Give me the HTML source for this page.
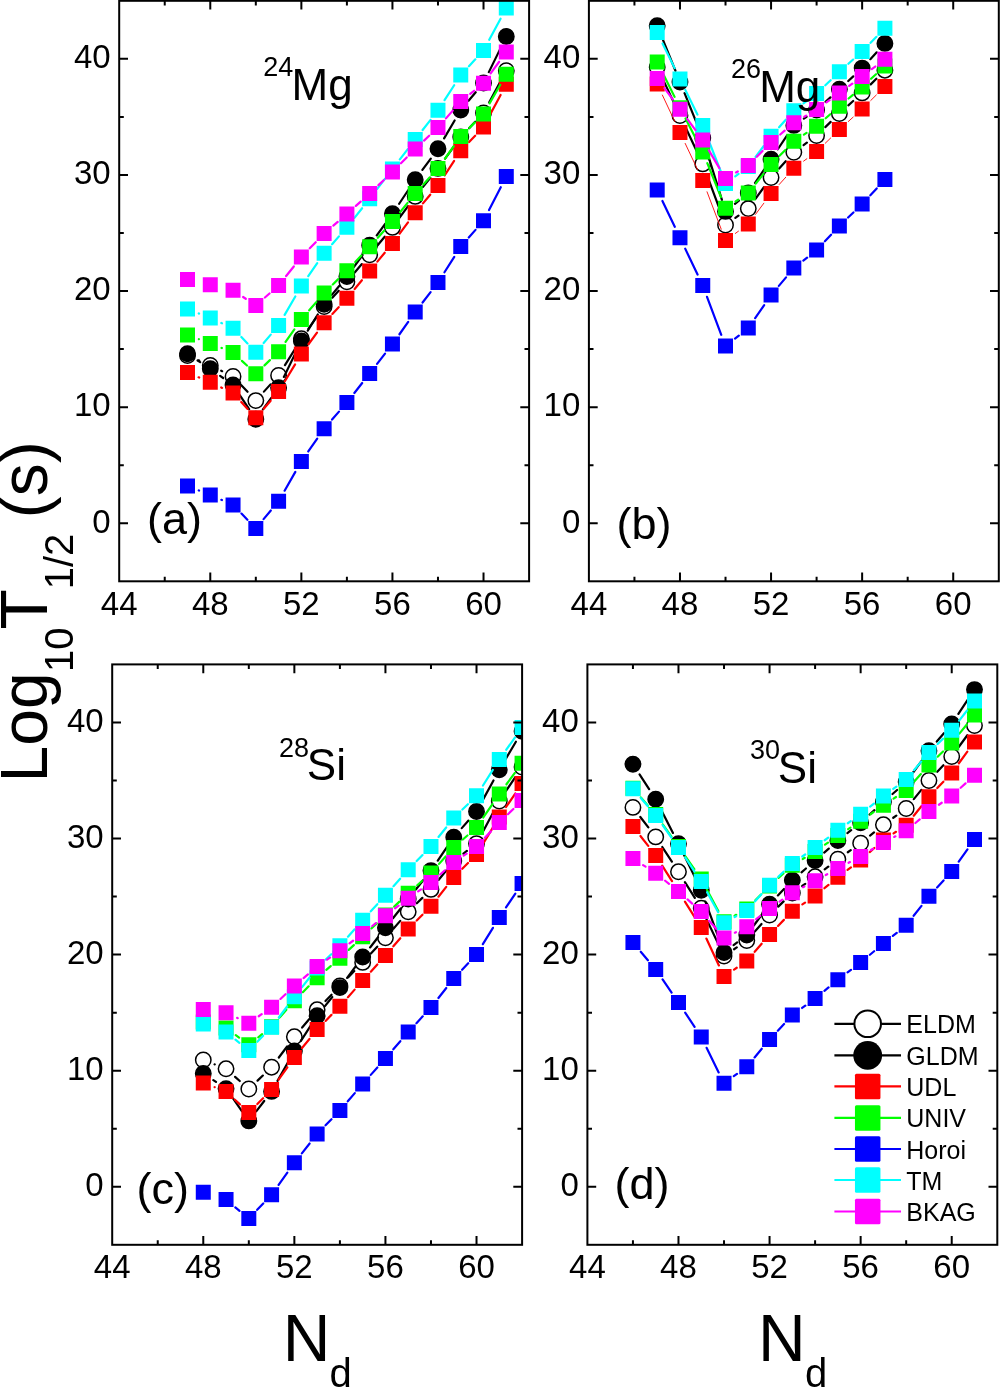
<!DOCTYPE html>
<html><head><meta charset="utf-8"><title>Log10 T1/2 vs Nd</title>
<style>html,body{margin:0;padding:0;background:#fff;width:1000px;height:1387px;overflow:hidden}svg{display:block;will-change:transform}</style>
</head><body>
<svg width="1000" height="1387" viewBox="0 0 1000 1387" font-family='"Liberation Sans", sans-serif'>
<rect width="1000" height="1387" fill="#fff"/>
<clipPath id="clipa"><rect x="119.2" y="0.8" width="409.9" height="580.5"/></clipPath>
<g clip-path="url(#clipa)">
<path d="M198.61 360.32L199.18 360.58M221.18 370.66L222.15 371.14M241.34 385.21L247.53 391.79M263.93 391.62L270.48 384.38M284.98 365.13L294.97 349.07M308.35 328.92L317.14 316.48M332.31 297.69L338.72 290.71M354.7 272.55L361.87 264.05M377.4 245.49L384.71 236.71M399.6 217.65L408.05 206.15M422.84 187.01L430.35 177.79M445.08 158.6L453.65 146.8M469.08 128.22L475.19 121.78M489.26 102.35L500.55 81.35" stroke="#000" stroke-width="2.2" fill="none" stroke-linecap="round"/>
<circle cx="187.51" cy="355.5" r="7.7" fill="#fff" stroke="#000" stroke-width="1.5"/>
<circle cx="210.28" cy="365.4" r="7.7" fill="#fff" stroke="#000" stroke-width="1.5"/>
<circle cx="233.05" cy="376.4" r="7.7" fill="#fff" stroke="#000" stroke-width="1.5"/>
<circle cx="255.82" cy="400.6" r="7.7" fill="#fff" stroke="#000" stroke-width="1.5"/>
<circle cx="278.59" cy="375.4" r="7.7" fill="#fff" stroke="#000" stroke-width="1.5"/>
<circle cx="301.36" cy="338.8" r="7.7" fill="#fff" stroke="#000" stroke-width="1.5"/>
<circle cx="324.13" cy="306.6" r="7.7" fill="#fff" stroke="#000" stroke-width="1.5"/>
<circle cx="346.9" cy="281.8" r="7.7" fill="#fff" stroke="#000" stroke-width="1.5"/>
<circle cx="369.67" cy="254.8" r="7.7" fill="#fff" stroke="#000" stroke-width="1.5"/>
<circle cx="392.44" cy="227.4" r="7.7" fill="#fff" stroke="#000" stroke-width="1.5"/>
<circle cx="415.21" cy="196.4" r="7.7" fill="#fff" stroke="#000" stroke-width="1.5"/>
<circle cx="437.98" cy="168.4" r="7.7" fill="#fff" stroke="#000" stroke-width="1.5"/>
<circle cx="460.75" cy="137" r="7.7" fill="#fff" stroke="#000" stroke-width="1.5"/>
<circle cx="483.52" cy="113" r="7.7" fill="#fff" stroke="#000" stroke-width="1.5"/>
<circle cx="506.29" cy="70.7" r="7.7" fill="#fff" stroke="#000" stroke-width="1.5"/>
<path d="M197.61 360.46L200.18 362.14M220.14 375.81L223.19 377.99M239.76 395.07L249.11 409.13M262.92 409.4L271.49 397.6M283.88 376.92L296.07 351.88M307.73 330.71L317.76 314.49M331.83 294.87L339.2 285.93M354 266.8L362.57 255M376.77 235.4L385.34 223.6M399.16 203.74L408.49 189.76M422.39 169.96L430.8 158.54M444.1 138.36L454.63 120.44M468.55 100.75L475.72 92.25M488.84 72.13L500.97 47.37" stroke="#000" stroke-width="2.2" fill="none" stroke-linecap="round"/>
<circle cx="187.51" cy="353.8" r="7.7" fill="#000" stroke="#000" stroke-width="1.5"/>
<circle cx="210.28" cy="368.8" r="7.7" fill="#000" stroke="#000" stroke-width="1.5"/>
<circle cx="233.05" cy="385" r="7.7" fill="#000" stroke="#000" stroke-width="1.5"/>
<circle cx="255.82" cy="419.2" r="7.7" fill="#000" stroke="#000" stroke-width="1.5"/>
<circle cx="278.59" cy="387.8" r="7.7" fill="#000" stroke="#000" stroke-width="1.5"/>
<circle cx="301.36" cy="341" r="7.7" fill="#000" stroke="#000" stroke-width="1.5"/>
<circle cx="324.13" cy="304.2" r="7.7" fill="#000" stroke="#000" stroke-width="1.5"/>
<circle cx="346.9" cy="276.6" r="7.7" fill="#000" stroke="#000" stroke-width="1.5"/>
<circle cx="369.67" cy="245.2" r="7.7" fill="#000" stroke="#000" stroke-width="1.5"/>
<circle cx="392.44" cy="213.8" r="7.7" fill="#000" stroke="#000" stroke-width="1.5"/>
<circle cx="415.21" cy="179.7" r="7.7" fill="#000" stroke="#000" stroke-width="1.5"/>
<circle cx="437.98" cy="148.8" r="7.7" fill="#000" stroke="#000" stroke-width="1.5"/>
<circle cx="460.75" cy="110" r="7.7" fill="#000" stroke="#000" stroke-width="1.5"/>
<circle cx="483.52" cy="83" r="7.7" fill="#000" stroke="#000" stroke-width="1.5"/>
<circle cx="506.29" cy="36.5" r="7.7" fill="#000" stroke="#000" stroke-width="1.5"/>
<path d="M198.62 377.28L199.17 377.52M221.21 387.49L222.12 387.91M241.25 402L247.62 408.9M263.76 408.67L270.65 400.73M284.86 381.25L295.09 364.35M308.49 344.23L317 332.57M332.37 313.94L338.66 307.16M354.65 289.01L361.92 280.29M377.37 261.67L384.74 252.73M399.65 233.68L408 222.42M422.96 203.41L430.23 194.69M444.63 175.29L454.1 160.91M469.11 142.06L475.16 135.74M489.21 116.32L500.6 94.98" stroke="#ff0000" stroke-width="2.2" fill="none" stroke-linecap="round"/>
<path d="M180.01 365h15.0v15.0h-15.0zM202.78 374.8h15.0v15.0h-15.0zM225.55 385.6h15.0v15.0h-15.0zM248.32 410.3h15.0v15.0h-15.0zM271.09 384.1h15.0v15.0h-15.0zM293.86 346.5h15.0v15.0h-15.0zM316.63 315.3h15.0v15.0h-15.0zM339.4 290.8h15.0v15.0h-15.0zM362.17 263.5h15.0v15.0h-15.0zM384.94 235.9h15.0v15.0h-15.0zM407.71 205.2h15.0v15.0h-15.0zM430.48 177.9h15.0v15.0h-15.0zM453.25 143.3h15.0v15.0h-15.0zM476.02 119.5h15.0v15.0h-15.0zM498.79 76.8h15.0v15.0h-15.0z" fill="#ff0000"/>
<path d="M198.85 339.13L198.94 339.17M221.5 347.93L221.83 348.07M241.91 360.85L246.96 365.55M264.5 365.37L269.91 360.13M285.58 341.82L294.37 329.38M309.23 310.31L316.26 302.09M332.79 284.45L338.24 279.15M355.23 261.92L361.34 255.48M377.8 237.74L384.31 230.56M400.06 212.2L407.59 202.9M423.34 184.54L429.85 177.36M445 158.54L453.73 146.26M469.36 127.9L474.91 122.4M489.55 103.41L500.26 84.79" stroke="#00ff00" stroke-width="2.2" fill="none" stroke-linecap="round"/>
<path d="M180.01 327.4h15.0v15.0h-15.0zM202.78 335.9h15.0v15.0h-15.0zM225.55 345.1h15.0v15.0h-15.0zM248.32 366.3h15.0v15.0h-15.0zM271.09 344.2h15.0v15.0h-15.0zM293.86 312h15.0v15.0h-15.0zM316.63 285.4h15.0v15.0h-15.0zM339.4 263.2h15.0v15.0h-15.0zM362.17 239.2h15.0v15.0h-15.0zM384.94 214.1h15.0v15.0h-15.0zM407.71 186h15.0v15.0h-15.0zM430.48 160.9h15.0v15.0h-15.0zM453.25 128.9h15.0v15.0h-15.0zM476.02 106.4h15.0v15.0h-15.0zM498.79 66.8h15.0v15.0h-15.0z" fill="#00ff00"/>
<path d="M198.76 490.45L199.03 490.55M221.38 499.82L221.95 500.08M241.47 513.59L247.4 519.71M263.59 519.12L270.82 510.48M284.6 490.7L295.35 471.9M308.27 451.47L317.22 438.63M332.07 419.57L338.96 411.63M354.37 392.98L362.2 383.02M377.08 363.93L385.03 353.67M399.46 334.24L408.19 321.96M422.59 302.51L430.6 292.09M444.46 272.28L454.27 256.82M468.76 237.53L475.51 229.87M489.04 210.03L500.77 187.17" stroke="#0000ff" stroke-width="2.2" fill="none" stroke-linecap="round"/>
<path d="M180.01 478.5h15.0v15.0h-15.0zM202.78 487.5h15.0v15.0h-15.0zM225.55 497.4h15.0v15.0h-15.0zM248.32 520.9h15.0v15.0h-15.0zM271.09 493.7h15.0v15.0h-15.0zM293.86 453.9h15.0v15.0h-15.0zM316.63 421.2h15.0v15.0h-15.0zM339.4 395h15.0v15.0h-15.0zM362.17 366h15.0v15.0h-15.0zM384.94 336.6h15.0v15.0h-15.0zM407.71 304.6h15.0v15.0h-15.0zM430.48 275h15.0v15.0h-15.0zM453.25 239.1h15.0v15.0h-15.0zM476.02 213.3h15.0v15.0h-15.0zM498.79 168.9h15.0v15.0h-15.0z" fill="#0000ff"/>
<path d="M198.75 313.49L199.04 313.61M221.34 323.01L221.99 323.29M241.38 336.98L247.49 343.42M263.65 342.98L270.76 334.62M284.64 314.92L295.31 296.48M308.27 276.07L317.22 263.23M332.1 244.2L338.93 236.4M354.45 217.85L362.12 208.25M377.02 189.19L385.09 178.61M399.85 159.43L407.8 149.17M422.63 130.05L430.56 119.85M444.55 100.14L454.18 85.26M468.95 66.2L475.32 59.3M489.24 39.74L500.57 18.66" stroke="#00ffff" stroke-width="2.2" fill="none" stroke-linecap="round"/>
<path d="M180.01 301.5h15.0v15.0h-15.0zM202.78 310.6h15.0v15.0h-15.0zM225.55 320.7h15.0v15.0h-15.0zM248.32 344.7h15.0v15.0h-15.0zM271.09 317.9h15.0v15.0h-15.0zM293.86 278.5h15.0v15.0h-15.0zM316.63 245.8h15.0v15.0h-15.0zM339.4 219.8h15.0v15.0h-15.0zM362.17 191.3h15.0v15.0h-15.0zM384.94 161.5h15.0v15.0h-15.0zM407.71 132.1h15.0v15.0h-15.0zM430.48 102.8h15.0v15.0h-15.0zM453.25 67.6h15.0v15.0h-15.0zM476.02 42.9h15.0v15.0h-15.0zM498.79 0.5h15.0v15.0h-15.0z" fill="#00ffff"/>
<path d="M243.11 297.02L245.76 298.78M264.91 297.51L269.5 293.49M286.14 276.05L293.81 266.45M309.78 248.31L315.71 242.19M333.32 225.63L337.71 221.87M355.89 205.9L360.68 201.6M378.45 185.17L383.66 180.23M400.95 163.3L406.7 157.5M424.03 140.61L429.16 135.79M445.95 118.4L452.78 110.6M470.18 93.92L474.09 90.78M490.65 73.43L499.16 61.77" stroke="#ff00ff" stroke-width="2.2" fill="none" stroke-linecap="round"/>
<path d="M180.01 271.9h15.0v15.0h-15.0zM202.78 277.2h15.0v15.0h-15.0zM225.55 282.8h15.0v15.0h-15.0zM248.32 298h15.0v15.0h-15.0zM271.09 278h15.0v15.0h-15.0zM293.86 249.5h15.0v15.0h-15.0zM316.63 226h15.0v15.0h-15.0zM339.4 206.5h15.0v15.0h-15.0zM362.17 186h15.0v15.0h-15.0zM384.94 164.4h15.0v15.0h-15.0zM407.71 141.4h15.0v15.0h-15.0zM430.48 120h15.0v15.0h-15.0zM453.25 94h15.0v15.0h-15.0zM476.02 75.7h15.0v15.0h-15.0zM498.79 44.5h15.0v15.0h-15.0z" fill="#ff00ff"/>
</g>
<path d="M164.74 581.3v-4.6M164.74 0.8v4.6M210.28 581.3v-8.8M210.28 0.8v8.8M255.82 581.3v-4.6M255.82 0.8v4.6M301.36 581.3v-8.8M301.36 0.8v8.8M346.9 581.3v-4.6M346.9 0.8v4.6M392.44 581.3v-8.8M392.44 0.8v8.8M437.98 581.3v-4.6M437.98 0.8v4.6M483.52 581.3v-8.8M483.52 0.8v8.8M119.2 523.25h8.8M529.1 523.25h-8.8M119.2 465.2h4.6M529.1 465.2h-4.6M119.2 407.15h8.8M529.1 407.15h-8.8M119.2 349.1h4.6M529.1 349.1h-4.6M119.2 291.05h8.8M529.1 291.05h-8.8M119.2 233h4.6M529.1 233h-4.6M119.2 174.95h8.8M529.1 174.95h-8.8M119.2 116.9h4.6M529.1 116.9h-4.6M119.2 58.85h8.8M529.1 58.85h-8.8" stroke="#000" stroke-width="2.0" fill="none"/>
<rect x="119.2" y="0.8" width="409.9" height="580.5" fill="none" stroke="#000" stroke-width="2.0"/>
<text x="110.6" y="532.55" text-anchor="end" font-size="33">0</text>
<text x="110.6" y="416.45" text-anchor="end" font-size="33">10</text>
<text x="110.6" y="300.35" text-anchor="end" font-size="33">20</text>
<text x="110.6" y="184.25" text-anchor="end" font-size="33">30</text>
<text x="110.6" y="68.15" text-anchor="end" font-size="33">40</text>
<text x="119.2" y="614.9" text-anchor="middle" font-size="33">44</text>
<text x="210.28" y="614.9" text-anchor="middle" font-size="33">48</text>
<text x="301.36" y="614.9" text-anchor="middle" font-size="33">52</text>
<text x="392.44" y="614.9" text-anchor="middle" font-size="33">56</text>
<text x="483.52" y="614.9" text-anchor="middle" font-size="33">60</text>
<clipPath id="clipb"><rect x="588.9" y="0.8" width="409.9" height="580.5"/></clipPath>
<g clip-path="url(#clipb)">
<path d="M662.36 78.15L674.83 104.65M685.14 126.54L697.59 152.96M706.98 175.24L721.29 213.66M735.34 217.93L738.47 215.67M755.44 198.84L763.91 187.26M779.17 168.52L785.72 161.28M803.57 145.12L806.86 142.68M825.3 127.09L830.67 121.91M848.34 105.38L853.17 101.02M870.71 84.36L876.34 78.74" stroke="#000" stroke-width="2.2" fill="none" stroke-linecap="round"/>
<circle cx="657.21" cy="67.2" r="7.7" fill="#fff" stroke="#000" stroke-width="1.5"/>
<circle cx="679.98" cy="115.6" r="7.7" fill="#fff" stroke="#000" stroke-width="1.5"/>
<circle cx="702.75" cy="163.9" r="7.7" fill="#fff" stroke="#000" stroke-width="1.5"/>
<circle cx="725.52" cy="225" r="7.7" fill="#fff" stroke="#000" stroke-width="1.5"/>
<circle cx="748.29" cy="208.6" r="7.7" fill="#fff" stroke="#000" stroke-width="1.5"/>
<circle cx="771.06" cy="177.5" r="7.7" fill="#fff" stroke="#000" stroke-width="1.5"/>
<circle cx="793.83" cy="152.3" r="7.7" fill="#fff" stroke="#000" stroke-width="1.5"/>
<circle cx="816.6" cy="135.5" r="7.7" fill="#fff" stroke="#000" stroke-width="1.5"/>
<circle cx="839.37" cy="113.5" r="7.7" fill="#fff" stroke="#000" stroke-width="1.5"/>
<circle cx="862.14" cy="92.9" r="7.7" fill="#fff" stroke="#000" stroke-width="1.5"/>
<circle cx="884.91" cy="70.2" r="7.7" fill="#fff" stroke="#000" stroke-width="1.5"/>
<path d="M661.75 36.92L675.44 70.78M684.54 93.21L698.19 126.79M706.34 149.56L721.93 199.84M734.93 203.79L738.88 200.61M755.06 182.97L764.29 169.33M777.81 149.26L787.08 135.44M803.85 118.62L806.58 116.78M825.53 101.84L830.44 97.36M848.25 80.98L853.26 76.32M870.34 59.2L876.71 52.3" stroke="#000" stroke-width="2.2" fill="none" stroke-linecap="round"/>
<circle cx="657.21" cy="25.7" r="7.7" fill="#000" stroke="#000" stroke-width="1.5"/>
<circle cx="679.98" cy="82" r="7.7" fill="#000" stroke="#000" stroke-width="1.5"/>
<circle cx="702.75" cy="138" r="7.7" fill="#000" stroke="#000" stroke-width="1.5"/>
<circle cx="725.52" cy="211.4" r="7.7" fill="#000" stroke="#000" stroke-width="1.5"/>
<circle cx="748.29" cy="193" r="7.7" fill="#000" stroke="#000" stroke-width="1.5"/>
<circle cx="771.06" cy="159.3" r="7.7" fill="#000" stroke="#000" stroke-width="1.5"/>
<circle cx="793.83" cy="125.4" r="7.7" fill="#000" stroke="#000" stroke-width="1.5"/>
<circle cx="816.6" cy="110" r="7.7" fill="#000" stroke="#000" stroke-width="1.5"/>
<circle cx="839.37" cy="89.2" r="7.7" fill="#000" stroke="#000" stroke-width="1.5"/>
<circle cx="862.14" cy="68.1" r="7.7" fill="#000" stroke="#000" stroke-width="1.5"/>
<circle cx="884.91" cy="43.4" r="7.7" fill="#000" stroke="#000" stroke-width="1.5"/>
<path d="M662.36 95.05L674.83 121.55M685.17 143.43L697.56 169.57M707.04 191.81L721.23 229.19M735.34 233.43L738.47 231.17M755.51 214.39L763.84 203.21M779.17 184.52L785.72 177.28M803.59 161.14L806.84 158.76M825.3 143.19L830.67 138.01M848.34 121.48L853.17 117.12M870.75 100.5L876.3 95" stroke="#ff0000" stroke-width="0.9" fill="none" stroke-linecap="round"/>
<path d="M649.71 76.6h15.0v15.0h-15.0zM672.48 125h15.0v15.0h-15.0zM695.25 173h15.0v15.0h-15.0zM718.02 233h15.0v15.0h-15.0zM740.79 216.6h15.0v15.0h-15.0zM763.56 186h15.0v15.0h-15.0zM786.33 160.8h15.0v15.0h-15.0zM809.1 144.1h15.0v15.0h-15.0zM831.87 122.1h15.0v15.0h-15.0zM854.64 101.5h15.0v15.0h-15.0zM877.41 79h15.0v15.0h-15.0z" fill="#ff0000"/>
<path d="M662.61 72.83L674.58 96.87M685.51 118.46L697.22 141.24M707.29 163.21L720.98 196.99M735.58 201.48L738.23 199.72M755.83 183.53L763.52 173.87M779.55 155.78L785.34 149.92M803.91 134.61L806.52 132.89M825.71 118.24L830.26 114.26M848.6 98.48L852.91 94.82M871.03 78.8L876.02 74.2" stroke="#00ff00" stroke-width="2.2" fill="none" stroke-linecap="round"/>
<path d="M649.71 54.5h15.0v15.0h-15.0zM672.48 100.2h15.0v15.0h-15.0zM695.25 144.5h15.0v15.0h-15.0zM718.02 200.7h15.0v15.0h-15.0zM740.79 185.5h15.0v15.0h-15.0zM763.56 156.9h15.0v15.0h-15.0zM786.33 133.8h15.0v15.0h-15.0zM809.1 118.7h15.0v15.0h-15.0zM831.87 98.8h15.0v15.0h-15.0zM854.64 79.5h15.0v15.0h-15.0zM877.41 58.5h15.0v15.0h-15.0z" fill="#00ff00"/>
<path d="M662.42 200.92L674.77 226.78M685.18 248.62L697.55 274.58M707.01 296.83L721.26 334.77M735.01 338.6L738.8 335.6M755.16 318.14L764.19 305.06M778.86 285.85L786.03 277.35M803.32 260.6L807.11 257.6M824.89 241.29L831.08 234.71M848.11 217.53L853.4 212.47M870.36 195.22L876.69 188.38" stroke="#0000ff" stroke-width="2.2" fill="none" stroke-linecap="round"/>
<path d="M649.71 182.5h15.0v15.0h-15.0zM672.48 230.2h15.0v15.0h-15.0zM695.25 278h15.0v15.0h-15.0zM718.02 338.6h15.0v15.0h-15.0zM740.79 320.6h15.0v15.0h-15.0zM763.56 287.6h15.0v15.0h-15.0zM786.33 260.6h15.0v15.0h-15.0zM809.1 242.6h15.0v15.0h-15.0zM831.87 218.4h15.0v15.0h-15.0zM854.64 196.6h15.0v15.0h-15.0zM877.41 172h15.0v15.0h-15.0z" fill="#0000ff"/>
<path d="M662.54 43.46L674.65 68.14M685.31 89.86L697.42 114.54M707.17 136.67L721.1 172.23M735.24 176.29L738.57 173.81M755.56 156.93L763.79 145.97M779.1 127.26L785.79 119.74M803.51 103.43L806.92 100.87M825.34 85.23L830.63 80.17M848.4 63.75L853.11 59.55M870.6 42.85L876.45 36.85" stroke="#00ffff" stroke-width="2.2" fill="none" stroke-linecap="round"/>
<path d="M649.71 25.1h15.0v15.0h-15.0zM672.48 71.5h15.0v15.0h-15.0zM695.25 117.9h15.0v15.0h-15.0zM718.02 176h15.0v15.0h-15.0zM740.79 159.1h15.0v15.0h-15.0zM763.56 128.8h15.0v15.0h-15.0zM786.33 103.2h15.0v15.0h-15.0zM809.1 86.1h15.0v15.0h-15.0zM831.87 64.3h15.0v15.0h-15.0zM854.64 44h15.0v15.0h-15.0zM877.41 20.7h15.0v15.0h-15.0z" fill="#00ffff"/>
<path d="M664.4 88.13L672.79 99.47M687.19 118.92L695.54 130.18M708.9 150.32L719.37 168.08M736.01 172.47L737.8 171.43M756.8 156.8L762.55 151M780.23 134.51L784.66 130.69M804.28 116.7L806.15 115.6M826.4 102.4L829.57 100.1M849.17 85.9L852.34 83.6M871.77 69.18L875.28 66.52" stroke="#ff00ff" stroke-width="2.2" fill="none" stroke-linecap="round"/>
<path d="M649.71 70.9h15.0v15.0h-15.0zM672.48 101.7h15.0v15.0h-15.0zM695.25 132.4h15.0v15.0h-15.0zM718.02 171h15.0v15.0h-15.0zM740.79 157.9h15.0v15.0h-15.0zM763.56 134.9h15.0v15.0h-15.0zM786.33 115.3h15.0v15.0h-15.0zM809.1 102h15.0v15.0h-15.0zM831.87 85.5h15.0v15.0h-15.0zM854.64 69h15.0v15.0h-15.0zM877.41 51.7h15.0v15.0h-15.0z" fill="#ff00ff"/>
</g>
<path d="M634.44 581.3v-4.6M634.44 0.8v4.6M679.98 581.3v-8.8M679.98 0.8v8.8M725.52 581.3v-4.6M725.52 0.8v4.6M771.06 581.3v-8.8M771.06 0.8v8.8M816.6 581.3v-4.6M816.6 0.8v4.6M862.14 581.3v-8.8M862.14 0.8v8.8M907.68 581.3v-4.6M907.68 0.8v4.6M953.22 581.3v-8.8M953.22 0.8v8.8M588.9 523.25h8.8M998.8 523.25h-8.8M588.9 465.2h4.6M998.8 465.2h-4.6M588.9 407.15h8.8M998.8 407.15h-8.8M588.9 349.1h4.6M998.8 349.1h-4.6M588.9 291.05h8.8M998.8 291.05h-8.8M588.9 233h4.6M998.8 233h-4.6M588.9 174.95h8.8M998.8 174.95h-8.8M588.9 116.9h4.6M998.8 116.9h-4.6M588.9 58.85h8.8M998.8 58.85h-8.8" stroke="#000" stroke-width="2.0" fill="none"/>
<rect x="588.9" y="0.8" width="409.9" height="580.5" fill="none" stroke="#000" stroke-width="2.0"/>
<text x="580.3" y="532.55" text-anchor="end" font-size="33">0</text>
<text x="580.3" y="416.45" text-anchor="end" font-size="33">10</text>
<text x="580.3" y="300.35" text-anchor="end" font-size="33">20</text>
<text x="580.3" y="184.25" text-anchor="end" font-size="33">30</text>
<text x="580.3" y="68.15" text-anchor="end" font-size="33">40</text>
<text x="588.9" y="614.9" text-anchor="middle" font-size="33">44</text>
<text x="679.98" y="614.9" text-anchor="middle" font-size="33">48</text>
<text x="771.06" y="614.9" text-anchor="middle" font-size="33">52</text>
<text x="862.14" y="614.9" text-anchor="middle" font-size="33">56</text>
<text x="953.22" y="614.9" text-anchor="middle" font-size="33">60</text>
<clipPath id="clipc"><rect x="112.2" y="664.4" width="409.9" height="580.4"/></clipPath>
<g clip-path="url(#clipc)">
<path d="M214.57 1064.36L214.76 1064.44M235.1 1076.83L239.77 1080.97M257.56 1080.63L262.85 1075.57M278.84 1057.52L287.11 1046.48M302.16 1027.55L309.33 1019.05M325.49 1001.06L331.54 994.74M348.3 977.29L354.27 971.11M370.89 953.52L377.22 946.68M393.41 928.7L400.24 920.9M416.84 903.31L422.35 897.89M438.55 879.96L446.18 870.44M463.36 853.65L466.91 850.95M482.22 832.93L493.59 811.67M506.02 790.95L515.33 777.05" stroke="#000" stroke-width="2.2" fill="none" stroke-linecap="round"/>
<circle cx="203.28" cy="1060" r="7.7" fill="#fff" stroke="#000" stroke-width="1.5"/>
<circle cx="226.05" cy="1068.8" r="7.7" fill="#fff" stroke="#000" stroke-width="1.5"/>
<circle cx="248.82" cy="1089" r="7.7" fill="#fff" stroke="#000" stroke-width="1.5"/>
<circle cx="271.59" cy="1067.2" r="7.7" fill="#fff" stroke="#000" stroke-width="1.5"/>
<circle cx="294.36" cy="1036.8" r="7.7" fill="#fff" stroke="#000" stroke-width="1.5"/>
<circle cx="317.13" cy="1009.8" r="7.7" fill="#fff" stroke="#000" stroke-width="1.5"/>
<circle cx="339.9" cy="986" r="7.7" fill="#fff" stroke="#000" stroke-width="1.5"/>
<circle cx="362.67" cy="962.4" r="7.7" fill="#fff" stroke="#000" stroke-width="1.5"/>
<circle cx="385.44" cy="937.8" r="7.7" fill="#fff" stroke="#000" stroke-width="1.5"/>
<circle cx="408.21" cy="911.8" r="7.7" fill="#fff" stroke="#000" stroke-width="1.5"/>
<circle cx="430.98" cy="889.4" r="7.7" fill="#fff" stroke="#000" stroke-width="1.5"/>
<circle cx="453.75" cy="861" r="7.7" fill="#fff" stroke="#000" stroke-width="1.5"/>
<circle cx="476.52" cy="843.6" r="7.7" fill="#fff" stroke="#000" stroke-width="1.5"/>
<circle cx="499.29" cy="801" r="7.7" fill="#fff" stroke="#000" stroke-width="1.5"/>
<circle cx="522.06" cy="767" r="7.7" fill="#fff" stroke="#000" stroke-width="1.5"/>
<path d="M213.34 1080.12L215.99 1081.88M233.02 1098.49L241.85 1111.01M256.21 1111.32L264.2 1100.98M277.53 1080.86L288.42 1061.54M300.93 1040.84L310.56 1025.96M324.73 1006.39L332.3 997.01M347.12 977.89L355.45 966.71M370.09 947.45L378.02 937.25M392.96 918.22L400.69 908.48M415.78 889.56L423.41 880.04M437.8 860.6L446.93 847.2M461.77 828.14L468.5 820.56M482.32 800.88L493.49 780.42M505.45 759.39L515.9 741.71" stroke="#000" stroke-width="2.2" fill="none" stroke-linecap="round"/>
<circle cx="203.28" cy="1073.4" r="7.7" fill="#000" stroke="#000" stroke-width="1.5"/>
<circle cx="226.05" cy="1088.6" r="7.7" fill="#000" stroke="#000" stroke-width="1.5"/>
<circle cx="248.82" cy="1120.9" r="7.7" fill="#000" stroke="#000" stroke-width="1.5"/>
<circle cx="271.59" cy="1091.4" r="7.7" fill="#000" stroke="#000" stroke-width="1.5"/>
<circle cx="294.36" cy="1051" r="7.7" fill="#000" stroke="#000" stroke-width="1.5"/>
<circle cx="317.13" cy="1015.8" r="7.7" fill="#000" stroke="#000" stroke-width="1.5"/>
<circle cx="339.9" cy="987.6" r="7.7" fill="#000" stroke="#000" stroke-width="1.5"/>
<circle cx="362.67" cy="957" r="7.7" fill="#000" stroke="#000" stroke-width="1.5"/>
<circle cx="385.44" cy="927.7" r="7.7" fill="#000" stroke="#000" stroke-width="1.5"/>
<circle cx="408.21" cy="899" r="7.7" fill="#000" stroke="#000" stroke-width="1.5"/>
<circle cx="430.98" cy="870.6" r="7.7" fill="#000" stroke="#000" stroke-width="1.5"/>
<circle cx="453.75" cy="837.2" r="7.7" fill="#000" stroke="#000" stroke-width="1.5"/>
<circle cx="476.52" cy="811.5" r="7.7" fill="#000" stroke="#000" stroke-width="1.5"/>
<circle cx="499.29" cy="769.8" r="7.7" fill="#000" stroke="#000" stroke-width="1.5"/>
<circle cx="522.06" cy="731.3" r="7.7" fill="#000" stroke="#000" stroke-width="1.5"/>
<path d="M214.6 1087.18L214.73 1087.22M234.93 1099.72L239.94 1104.38M257.33 1104L263.08 1098.2M278.58 1079.72L287.37 1067.28M302.03 1048.04L309.46 1038.96M325.57 1020.93L331.46 1014.87M347.94 997.16L354.63 989.64M370.8 971.64L377.31 964.46M393.34 946.34L400.31 938.26M416.74 920.52L422.45 914.78M438.48 896.71L446.25 886.89M462.26 868.8L468.01 863M482.81 844.06L493 827.34M506.09 806.99L515.26 793.51" stroke="#ff0000" stroke-width="2.2" fill="none" stroke-linecap="round"/>
<path d="M195.78 1075.4h15.0v15.0h-15.0zM218.55 1084h15.0v15.0h-15.0zM241.32 1105.1h15.0v15.0h-15.0zM264.09 1082.1h15.0v15.0h-15.0zM286.86 1049.9h15.0v15.0h-15.0zM309.63 1022.1h15.0v15.0h-15.0zM332.4 998.7h15.0v15.0h-15.0zM355.17 973.1h15.0v15.0h-15.0zM377.94 948h15.0v15.0h-15.0zM400.71 921.6h15.0v15.0h-15.0zM423.48 898.7h15.0v15.0h-15.0zM446.25 869.9h15.0v15.0h-15.0zM469.02 846.9h15.0v15.0h-15.0zM491.79 809.5h15.0v15.0h-15.0zM514.56 776h15.0v15.0h-15.0z" fill="#ff0000"/>
<path d="M235.79 1035.18L239.08 1037.62M258.29 1037.27L262.12 1034.23M279.58 1017.61L286.37 1009.89M302.85 992.18L308.64 986.32M326.32 969.83L330.71 966.07M348.72 949.91L353.85 945.09M371.41 928.43L376.7 923.37M394.2 906.65L399.45 901.65M417.22 885.23L421.97 880.97M439.06 863.89L445.67 856.51M462.84 839.51L467.43 835.49M483.32 817.49L492.49 804.01M506.48 784.27L514.87 772.93" stroke="#00ff00" stroke-width="2.2" fill="none" stroke-linecap="round"/>
<path d="M195.78 1014.5h15.0v15.0h-15.0zM218.55 1020.5h15.0v15.0h-15.0zM241.32 1037.3h15.0v15.0h-15.0zM264.09 1019.2h15.0v15.0h-15.0zM286.86 993.3h15.0v15.0h-15.0zM309.63 970.2h15.0v15.0h-15.0zM332.4 950.7h15.0v15.0h-15.0zM355.17 929.3h15.0v15.0h-15.0zM377.94 907.5h15.0v15.0h-15.0zM400.71 885.8h15.0v15.0h-15.0zM423.48 865.4h15.0v15.0h-15.0zM446.25 840h15.0v15.0h-15.0zM469.02 820h15.0v15.0h-15.0zM491.79 786.5h15.0v15.0h-15.0zM514.56 755.7h15.0v15.0h-15.0z" fill="#00ff00"/>
<path d="M235.34 1207.35L239.53 1210.85M257.18 1209.86L263.23 1203.54M278.61 1184.94L287.34 1172.66M301.86 1153.31L309.63 1143.49M325.55 1125.31L331.48 1119.19M347.77 1101.31L354.8 1093.09M370.75 1074.89L377.36 1067.51M393.33 1049.32L400.32 1041.18M416.45 1023.14L422.74 1016.36M438.45 997.98L446.28 988.02M462.08 969.72L468.19 963.28M482.86 944.2L492.95 927.8M506.02 907.45L515.33 893.55" stroke="#0000ff" stroke-width="2.2" fill="none" stroke-linecap="round"/>
<path d="M195.78 1184.7h15.0v15.0h-15.0zM218.55 1192.1h15.0v15.0h-15.0zM241.32 1211.1h15.0v15.0h-15.0zM264.09 1187.3h15.0v15.0h-15.0zM286.86 1155.3h15.0v15.0h-15.0zM309.63 1126.5h15.0v15.0h-15.0zM332.4 1103h15.0v15.0h-15.0zM355.17 1076.4h15.0v15.0h-15.0zM377.94 1051h15.0v15.0h-15.0zM400.71 1024.5h15.0v15.0h-15.0zM423.48 1000h15.0v15.0h-15.0zM446.25 971h15.0v15.0h-15.0zM469.02 947h15.0v15.0h-15.0zM491.79 910h15.0v15.0h-15.0zM514.56 876h15.0v15.0h-15.0z" fill="#0000ff"/>
<path d="M235.46 1039.61L239.41 1042.79M257.3 1041.76L263.11 1035.84M278.84 1017.52L287.11 1006.48M301.86 987.31L309.63 977.49M325.77 959.53L331.26 954.17M347.98 936.69L354.59 929.31M370.8 911.34L377.31 904.16M393.5 886.17L400.15 878.73M416.67 861.05L422.52 855.05M438.55 836.96L446.18 827.44M462.39 809.53L467.88 804.17M482.98 785.47L492.83 769.83M506.29 749.73L515.06 737.37" stroke="#00ffff" stroke-width="2.2" fill="none" stroke-linecap="round"/>
<path d="M195.78 1016.5h15.0v15.0h-15.0zM218.55 1024.5h15.0v15.0h-15.0zM241.32 1042.9h15.0v15.0h-15.0zM264.09 1019.7h15.0v15.0h-15.0zM286.86 989.3h15.0v15.0h-15.0zM309.63 960.5h15.0v15.0h-15.0zM332.4 938.2h15.0v15.0h-15.0zM355.17 912.8h15.0v15.0h-15.0zM377.94 887.7h15.0v15.0h-15.0zM400.71 862.2h15.0v15.0h-15.0zM423.48 838.9h15.0v15.0h-15.0zM446.25 810.5h15.0v15.0h-15.0zM469.02 788.2h15.0v15.0h-15.0zM491.79 752.1h15.0v15.0h-15.0zM514.56 720h15.0v15.0h-15.0z" fill="#00ffff"/>
<path d="M237.06 1017.83L237.81 1018.17M258.72 1016.24L261.69 1014.16M280.45 998.95L285.5 994.25M303.57 978.15L307.92 974.45M327.07 959.7L329.96 957.7M349.51 943.45L353.06 940.75M372.24 926L375.87 923.2M395.03 908.43L398.62 905.67M418.13 891.37L421.06 889.33M440.11 874.46L444.62 870.54M463.65 855.64L466.62 853.56M484.85 837.82L490.96 831.38M507.97 814.17L513.38 808.93" stroke="#ff00ff" stroke-width="2.2" fill="none" stroke-linecap="round"/>
<path d="M195.78 1001.9h15.0v15.0h-15.0zM218.55 1005.3h15.0v15.0h-15.0zM241.32 1015.7h15.0v15.0h-15.0zM264.09 999.7h15.0v15.0h-15.0zM286.86 978.5h15.0v15.0h-15.0zM309.63 959.1h15.0v15.0h-15.0zM332.4 943.3h15.0v15.0h-15.0zM355.17 925.9h15.0v15.0h-15.0zM377.94 908.3h15.0v15.0h-15.0zM400.71 890.8h15.0v15.0h-15.0zM423.48 874.9h15.0v15.0h-15.0zM446.25 855.1h15.0v15.0h-15.0zM469.02 839.1h15.0v15.0h-15.0zM491.79 815.1h15.0v15.0h-15.0zM514.56 793h15.0v15.0h-15.0z" fill="#ff00ff"/>
</g>
<path d="M157.74 1244.8v-4.6M157.74 664.4v4.6M203.28 1244.8v-8.8M203.28 664.4v8.8M248.82 1244.8v-4.6M248.82 664.4v4.6M294.36 1244.8v-8.8M294.36 664.4v8.8M339.9 1244.8v-4.6M339.9 664.4v4.6M385.44 1244.8v-8.8M385.44 664.4v8.8M430.98 1244.8v-4.6M430.98 664.4v4.6M476.52 1244.8v-8.8M476.52 664.4v8.8M112.2 1186.75h8.8M522.1 1186.75h-8.8M112.2 1128.71h4.6M522.1 1128.71h-4.6M112.2 1070.67h8.8M522.1 1070.67h-8.8M112.2 1012.63h4.6M522.1 1012.63h-4.6M112.2 954.59h8.8M522.1 954.59h-8.8M112.2 896.55h4.6M522.1 896.55h-4.6M112.2 838.51h8.8M522.1 838.51h-8.8M112.2 780.47h4.6M522.1 780.47h-4.6M112.2 722.43h8.8M522.1 722.43h-8.8" stroke="#000" stroke-width="2.0" fill="none"/>
<rect x="112.2" y="664.4" width="409.9" height="580.4" fill="none" stroke="#000" stroke-width="2.0"/>
<text x="103.6" y="1196.05" text-anchor="end" font-size="33">0</text>
<text x="103.6" y="1079.97" text-anchor="end" font-size="33">10</text>
<text x="103.6" y="963.89" text-anchor="end" font-size="33">20</text>
<text x="103.6" y="847.81" text-anchor="end" font-size="33">30</text>
<text x="103.6" y="731.73" text-anchor="end" font-size="33">40</text>
<text x="112.2" y="1278.4" text-anchor="middle" font-size="33">44</text>
<text x="203.28" y="1278.4" text-anchor="middle" font-size="33">48</text>
<text x="294.36" y="1278.4" text-anchor="middle" font-size="33">52</text>
<text x="385.44" y="1278.4" text-anchor="middle" font-size="33">56</text>
<text x="476.52" y="1278.4" text-anchor="middle" font-size="33">60</text>
<clipPath id="clipd"><rect x="587.4" y="664.4" width="409.9" height="580.4"/></clipPath>
<g clip-path="url(#clipd)">
<path d="M640.33 816.98L648.32 827.32M662.32 847.03L671.87 861.67M684.9 882.06L694.83 897.94M706.45 919.12L718.82 945.08M734.04 949.22L736.77 947.38M754.83 931.56L761.52 924.04M778.26 906.59L783.63 901.41M802.19 885.99L805.24 883.81M824.67 869.4L828.3 866.6M847.77 852.24L850.74 850.16M870.05 835.59L874 832.41M893.25 817.76L896.34 815.54M913.81 799.11L921.32 789.89M937.28 771.72L943.39 765.28M958.88 746.75L967.33 735.25" stroke="#000" stroke-width="2.2" fill="none" stroke-linecap="round"/>
<circle cx="632.94" cy="807.4" r="7.7" fill="#fff" stroke="#000" stroke-width="1.5"/>
<circle cx="655.71" cy="836.9" r="7.7" fill="#fff" stroke="#000" stroke-width="1.5"/>
<circle cx="678.48" cy="871.8" r="7.7" fill="#fff" stroke="#000" stroke-width="1.5"/>
<circle cx="701.25" cy="908.2" r="7.7" fill="#fff" stroke="#000" stroke-width="1.5"/>
<circle cx="724.02" cy="956" r="7.7" fill="#fff" stroke="#000" stroke-width="1.5"/>
<circle cx="746.79" cy="940.6" r="7.7" fill="#fff" stroke="#000" stroke-width="1.5"/>
<circle cx="769.56" cy="915" r="7.7" fill="#fff" stroke="#000" stroke-width="1.5"/>
<circle cx="792.33" cy="893" r="7.7" fill="#fff" stroke="#000" stroke-width="1.5"/>
<circle cx="815.1" cy="876.8" r="7.7" fill="#fff" stroke="#000" stroke-width="1.5"/>
<circle cx="837.87" cy="859.2" r="7.7" fill="#fff" stroke="#000" stroke-width="1.5"/>
<circle cx="860.64" cy="843.2" r="7.7" fill="#fff" stroke="#000" stroke-width="1.5"/>
<circle cx="883.41" cy="824.8" r="7.7" fill="#fff" stroke="#000" stroke-width="1.5"/>
<circle cx="906.18" cy="808.5" r="7.7" fill="#fff" stroke="#000" stroke-width="1.5"/>
<circle cx="928.95" cy="780.5" r="7.7" fill="#fff" stroke="#000" stroke-width="1.5"/>
<circle cx="951.72" cy="756.5" r="7.7" fill="#fff" stroke="#000" stroke-width="1.5"/>
<circle cx="974.49" cy="725.5" r="7.7" fill="#fff" stroke="#000" stroke-width="1.5"/>
<path d="M639.54 774.34L649.11 789.06M661.22 809.97L672.97 832.93M683.8 854.57L695.93 879.33M705.4 901.57L719.87 941.23M733.59 945.2L737.22 942.4M753.98 925.27L762.37 913.93M777.89 895.42L784 888.98M801.5 872.31L805.93 868.49M824.19 852.61L828.78 848.59M847.38 833.12L851.13 830.18M869.59 814.56L874.46 810.14M892.5 794.01L897.09 789.99M913.31 772.23L921.82 760.57M936.78 741.58L943.89 733.22M958.4 713.91L967.81 699.69" stroke="#000" stroke-width="2.2" fill="none" stroke-linecap="round"/>
<circle cx="632.94" cy="764.2" r="7.7" fill="#000" stroke="#000" stroke-width="1.5"/>
<circle cx="655.71" cy="799.2" r="7.7" fill="#000" stroke="#000" stroke-width="1.5"/>
<circle cx="678.48" cy="843.7" r="7.7" fill="#000" stroke="#000" stroke-width="1.5"/>
<circle cx="701.25" cy="890.2" r="7.7" fill="#000" stroke="#000" stroke-width="1.5"/>
<circle cx="724.02" cy="952.6" r="7.7" fill="#000" stroke="#000" stroke-width="1.5"/>
<circle cx="746.79" cy="935" r="7.7" fill="#000" stroke="#000" stroke-width="1.5"/>
<circle cx="769.56" cy="904.2" r="7.7" fill="#000" stroke="#000" stroke-width="1.5"/>
<circle cx="792.33" cy="880.2" r="7.7" fill="#000" stroke="#000" stroke-width="1.5"/>
<circle cx="815.1" cy="860.6" r="7.7" fill="#000" stroke="#000" stroke-width="1.5"/>
<circle cx="837.87" cy="840.6" r="7.7" fill="#000" stroke="#000" stroke-width="1.5"/>
<circle cx="860.64" cy="822.7" r="7.7" fill="#000" stroke="#000" stroke-width="1.5"/>
<circle cx="883.41" cy="802" r="7.7" fill="#000" stroke="#000" stroke-width="1.5"/>
<circle cx="906.18" cy="782" r="7.7" fill="#000" stroke="#000" stroke-width="1.5"/>
<circle cx="928.95" cy="750.8" r="7.7" fill="#000" stroke="#000" stroke-width="1.5"/>
<circle cx="951.72" cy="724" r="7.7" fill="#000" stroke="#000" stroke-width="1.5"/>
<circle cx="974.49" cy="689.6" r="7.7" fill="#000" stroke="#000" stroke-width="1.5"/>
<path d="M640.43 836L648.22 845.9M662.18 865.63L672.01 881.17M684.92 901.64L694.81 917.36M706.37 938.57L718.9 965.43M734.04 969.62L736.77 967.78M754.69 951.84L761.66 943.76M778 925.93L783.89 919.87M802.37 904.45L805.06 902.65M824.45 888.22L828.52 884.88M847.55 869.93L850.96 867.37M869.71 852.09L874.34 848.01M893.56 833.41L896.03 831.79M913.75 815.76L921.38 806.24M937.31 788.06L943.36 781.74M958.87 763.24L967.34 751.66" stroke="#ff0000" stroke-width="2.2" fill="none" stroke-linecap="round"/>
<path d="M625.44 819h15.0v15.0h-15.0zM648.21 847.9h15.0v15.0h-15.0zM670.98 883.9h15.0v15.0h-15.0zM693.75 920.1h15.0v15.0h-15.0zM716.52 968.9h15.0v15.0h-15.0zM739.29 953.5h15.0v15.0h-15.0zM762.06 927.1h15.0v15.0h-15.0zM784.83 903.7h15.0v15.0h-15.0zM807.6 888.4h15.0v15.0h-15.0zM830.37 869.7h15.0v15.0h-15.0zM853.14 852.6h15.0v15.0h-15.0zM875.91 832.5h15.0v15.0h-15.0zM898.68 817.7h15.0v15.0h-15.0zM921.45 789.3h15.0v15.0h-15.0zM944.22 765.5h15.0v15.0h-15.0zM966.99 734.4h15.0v15.0h-15.0z" fill="#ff0000"/>
<path d="M640.88 797.43L647.77 805.37M662.73 824.36L671.46 836.64M685.41 856.42L694.32 869.18M706.95 889.77L718.32 911.03M734.57 915.77L736.24 914.83M755.32 900.32L761.03 894.58M778.49 877.84L783.4 873.36M802.72 859L804.71 857.8M825 844.64L827.97 842.56M848.1 829.13L850.41 827.67M870.54 814.24L873.51 812.16M893.56 798.61L896.03 796.99M914.27 781.41L920.86 774.09M937.63 756.67L943.04 751.43M959.37 733.63L966.84 724.47" stroke="#00ff00" stroke-width="2.2" fill="none" stroke-linecap="round"/>
<path d="M625.44 780.8h15.0v15.0h-15.0zM648.21 807h15.0v15.0h-15.0zM670.98 839h15.0v15.0h-15.0zM693.75 871.6h15.0v15.0h-15.0zM716.52 914.2h15.0v15.0h-15.0zM739.29 901.4h15.0v15.0h-15.0zM762.06 878.5h15.0v15.0h-15.0zM784.83 857.7h15.0v15.0h-15.0zM807.6 844.1h15.0v15.0h-15.0zM830.37 828.1h15.0v15.0h-15.0zM853.14 813.7h15.0v15.0h-15.0zM875.91 797.7h15.0v15.0h-15.0zM898.68 782.9h15.0v15.0h-15.0zM921.45 757.6h15.0v15.0h-15.0zM944.22 735.5h15.0v15.0h-15.0zM966.99 707.6h15.0v15.0h-15.0z" fill="#00ff00"/>
<path d="M640.74 951.75L647.91 960.25M662.58 979.46L671.61 992.54M685.15 1012.6L694.58 1026.9M706.59 1047.86L718.68 1072.44M733.8 1076.17L737.01 1073.83M754.56 1057.42L761.79 1048.78M777.82 1030.65L784.07 1023.95M802.11 1007.97L805.32 1005.63M824.43 990.8L828.54 987.4M847.53 972.41L850.98 969.79M869.93 954.75L874.12 951.25M892.86 935.95L896.73 932.85M913.65 915.78L921.48 905.82M937.13 887.39L943.54 880.41M958.74 861.64L967.47 849.36" stroke="#0000ff" stroke-width="2.2" fill="none" stroke-linecap="round"/>
<path d="M625.44 935h15.0v15.0h-15.0zM648.21 962h15.0v15.0h-15.0zM670.98 995h15.0v15.0h-15.0zM693.75 1029.5h15.0v15.0h-15.0zM716.52 1075.8h15.0v15.0h-15.0zM739.29 1059.2h15.0v15.0h-15.0zM762.06 1032h15.0v15.0h-15.0zM784.83 1007.6h15.0v15.0h-15.0zM807.6 991h15.0v15.0h-15.0zM830.37 972.2h15.0v15.0h-15.0zM853.14 955h15.0v15.0h-15.0zM875.91 936h15.0v15.0h-15.0zM898.68 917.8h15.0v15.0h-15.0zM921.45 888.8h15.0v15.0h-15.0zM944.22 864h15.0v15.0h-15.0zM966.99 832h15.0v15.0h-15.0z" fill="#0000ff"/>
<path d="M640.81 797.99L647.84 806.21M662.73 825.26L671.46 837.54M685.19 857.47L694.54 871.53M707.1 892.19L718.17 912.21M734.65 917.01L736.16 916.19M754.9 901.42L761.45 894.18M778.3 876.83L783.59 871.77M802.27 856.5L805.16 854.5M824.71 840.25L828.26 837.55M847.77 823.24L850.74 821.16M870.09 806.65L873.96 803.55M893.21 788.9L896.38 786.6M913.96 770.24L921.17 761.66M937.61 743.95L943.06 738.65M959.14 720.65L967.07 710.45" stroke="#00ffff" stroke-width="2.2" fill="none" stroke-linecap="round"/>
<path d="M625.44 781.3h15.0v15.0h-15.0zM648.21 807.9h15.0v15.0h-15.0zM670.98 839.9h15.0v15.0h-15.0zM693.75 874.1h15.0v15.0h-15.0zM716.52 915.3h15.0v15.0h-15.0zM739.29 902.9h15.0v15.0h-15.0zM762.06 877.7h15.0v15.0h-15.0zM784.83 855.9h15.0v15.0h-15.0zM807.6 840.1h15.0v15.0h-15.0zM830.37 822.7h15.0v15.0h-15.0zM853.14 806.7h15.0v15.0h-15.0zM875.91 788.5h15.0v15.0h-15.0zM898.68 772h15.0v15.0h-15.0zM921.45 744.9h15.0v15.0h-15.0zM944.22 722.7h15.0v15.0h-15.0zM966.99 693.4h15.0v15.0h-15.0z" fill="#00ffff"/>
<path d="M643.11 865.06L645.54 866.64M665.16 880.75L669.03 883.85M687.53 899.43L692.2 903.57M709.15 920.76L716.12 928.84M734.88 932.66L735.93 932.14M756.2 919.19L760.15 916.01M779.54 901.56L782.35 899.64M803.03 887.16L804.4 886.44M825.73 875.01L827.24 874.19M848.57 862.76L849.94 862.04M870.95 850.06L873.1 848.74M894.19 836.91L895.4 836.29M915.43 823L919.7 819.4M938.91 804.73L941.76 802.77M960.67 787.76L965.54 783.34" stroke="#ff00ff" stroke-width="2.2" fill="none" stroke-linecap="round"/>
<path d="M625.44 851h15.0v15.0h-15.0zM648.21 865.7h15.0v15.0h-15.0zM670.98 883.9h15.0v15.0h-15.0zM693.75 904.1h15.0v15.0h-15.0zM716.52 930.5h15.0v15.0h-15.0zM739.29 919.3h15.0v15.0h-15.0zM762.06 900.9h15.0v15.0h-15.0zM784.83 885.3h15.0v15.0h-15.0zM807.6 873.3h15.0v15.0h-15.0zM830.37 860.9h15.0v15.0h-15.0zM853.14 848.9h15.0v15.0h-15.0zM875.91 834.9h15.0v15.0h-15.0zM898.68 823.3h15.0v15.0h-15.0zM921.45 804.1h15.0v15.0h-15.0zM944.22 788.4h15.0v15.0h-15.0zM966.99 767.7h15.0v15.0h-15.0z" fill="#ff00ff"/>
</g>
<path d="M632.94 1244.8v-4.6M632.94 664.4v4.6M678.48 1244.8v-8.8M678.48 664.4v8.8M724.02 1244.8v-4.6M724.02 664.4v4.6M769.56 1244.8v-8.8M769.56 664.4v8.8M815.1 1244.8v-4.6M815.1 664.4v4.6M860.64 1244.8v-8.8M860.64 664.4v8.8M906.18 1244.8v-4.6M906.18 664.4v4.6M951.72 1244.8v-8.8M951.72 664.4v8.8M587.4 1186.75h8.8M997.3 1186.75h-8.8M587.4 1128.71h4.6M997.3 1128.71h-4.6M587.4 1070.67h8.8M997.3 1070.67h-8.8M587.4 1012.63h4.6M997.3 1012.63h-4.6M587.4 954.59h8.8M997.3 954.59h-8.8M587.4 896.55h4.6M997.3 896.55h-4.6M587.4 838.51h8.8M997.3 838.51h-8.8M587.4 780.47h4.6M997.3 780.47h-4.6M587.4 722.43h8.8M997.3 722.43h-8.8" stroke="#000" stroke-width="2.0" fill="none"/>
<rect x="587.4" y="664.4" width="409.9" height="580.4" fill="none" stroke="#000" stroke-width="2.0"/>
<text x="578.8" y="1196.05" text-anchor="end" font-size="33">0</text>
<text x="578.8" y="1079.97" text-anchor="end" font-size="33">10</text>
<text x="578.8" y="963.89" text-anchor="end" font-size="33">20</text>
<text x="578.8" y="847.81" text-anchor="end" font-size="33">30</text>
<text x="578.8" y="731.73" text-anchor="end" font-size="33">40</text>
<text x="587.4" y="1278.4" text-anchor="middle" font-size="33">44</text>
<text x="678.48" y="1278.4" text-anchor="middle" font-size="33">48</text>
<text x="769.56" y="1278.4" text-anchor="middle" font-size="33">52</text>
<text x="860.64" y="1278.4" text-anchor="middle" font-size="33">56</text>
<text x="951.72" y="1278.4" text-anchor="middle" font-size="33">60</text>
<text x="263.2" y="76.2" font-size="27">24</text>
<text x="291.6" y="99.8" font-size="44">Mg</text>
<text x="730.9" y="78.4" font-size="27">26</text>
<text x="759.2" y="101.5" font-size="44">Mg</text>
<text x="279.0" y="756.8" font-size="27">28</text>
<text x="306.8" y="780" font-size="44">Si</text>
<text x="750.0" y="759.2" font-size="27">30</text>
<text x="777.8" y="782.5" font-size="44">Si</text>
<text x="147.0" y="534" font-size="45">(a)</text>
<text x="616.5" y="538.5" font-size="45">(b)</text>
<text x="136.6" y="1203.5" font-size="45">(c)</text>
<text x="614.5" y="1198.5" font-size="45">(d)</text>
<path d="M834.4 1023.8H901" stroke="#000" stroke-width="2.2"/>
<circle cx="867.7" cy="1023.8" r="13.3" fill="#fff" stroke="#000" stroke-width="2"/>
<text x="906.3" y="1033.3" font-size="25">ELDM</text>
<path d="M834.4 1055.4H901" stroke="#000" stroke-width="2.2"/>
<circle cx="867.7" cy="1055.4" r="14.4" fill="#000"/>
<text x="906.3" y="1064.9" font-size="25">GLDM</text>
<path d="M834.4 1086.4H901" stroke="#ff0000" stroke-width="2.2"/>
<rect x="854.95" y="1073.65" width="25.5" height="25.5" rx="1.5" fill="#ff0000"/>
<text x="906.3" y="1095.9" font-size="25">UDL</text>
<path d="M834.4 1117.9H901" stroke="#00ff00" stroke-width="2.2"/>
<rect x="854.95" y="1105.15" width="25.5" height="25.5" rx="1.5" fill="#00ff00"/>
<text x="906.3" y="1127.4" font-size="25">UNIV</text>
<path d="M834.4 1149H901" stroke="#0000ff" stroke-width="2.2"/>
<rect x="854.95" y="1136.25" width="25.5" height="25.5" rx="1.5" fill="#0000ff"/>
<text x="906.3" y="1158.5" font-size="25">Horoi</text>
<path d="M834.4 1180H901" stroke="#00ffff" stroke-width="2.2"/>
<rect x="854.95" y="1167.25" width="25.5" height="25.5" rx="1.5" fill="#00ffff"/>
<text x="906.3" y="1189.5" font-size="25">TM</text>
<path d="M834.4 1211.5H901" stroke="#ff00ff" stroke-width="2.2"/>
<rect x="854.95" y="1198.75" width="25.5" height="25.5" rx="1.5" fill="#ff00ff"/>
<text x="906.3" y="1221" font-size="25">BKAG</text>
<text x="47.4" y="782.4" font-size="66" transform="rotate(-90 47.4 782.4)">Log</text>
<text x="72.7" y="672" font-size="40" transform="rotate(-90 72.7 672)">10</text>
<text x="47.4" y="629.4" font-size="66" transform="rotate(-90 47.4 629.4)">T</text>
<text x="72.7" y="589.3" font-size="40" transform="rotate(-90 72.7 589.3)">1/2</text>
<text x="47.4" y="518.3" font-size="66" transform="rotate(-90 47.4 518.3)">(s)</text>
<text x="282.8" y="1361.3" font-size="66">N</text>
<text x="329.4" y="1387" font-size="40">d</text>
<text x="758" y="1361.3" font-size="66">N</text>
<text x="804.9" y="1387" font-size="40">d</text>
</svg>
</body></html>
